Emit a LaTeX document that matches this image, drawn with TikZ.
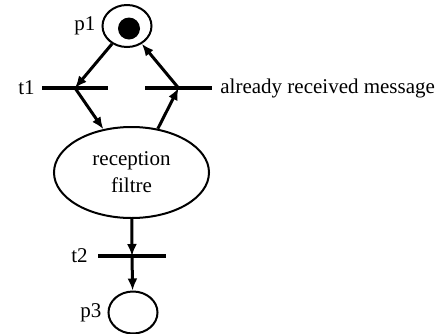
\documentclass[tikz,border=0pt]{standalone}
\usepackage{fontspec}
\setmainfont{Liberation Serif}
\usetikzlibrary{arrows.meta,shapes.geometric,positioning}

\begin{document}
\begin{tikzpicture}[x=1pt, y=-1pt, font=\fontsize{21}{27}\selectfont,
  place/.style={draw, ellipse, line width=2pt, minimum width=49pt, minimum height=42pt, inner sep=0pt},
  trans/.style={rectangle, fill=black, minimum height=4pt, inner sep=0pt},
  arc/.style={->, >={Latex[length=12pt,width=10pt]}, line width=3pt}]
\useasboundingbox (0,0) rectangle (439,333);
\node[place] at (127,26) (p1) {};
\node[circle, fill=black, minimum size=22pt, inner sep=0pt] at (129,28.5) (tok) {};
\node[left=6pt of p1, inner sep=0pt] (lp1) {p1};
\node[trans, minimum width=66pt] at (75,88) (t1) {};
\node[left=7pt of t1, inner sep=0pt] (lt1) {t1};
\node[trans, minimum width=67pt] at (178.5,88) (t3) {};
\node[right=8pt of t3, inner sep=0pt] (lt3) {already received message};
\node[draw, ellipse, line width=2pt, minimum width=155pt, minimum height=91pt, align=center] at (131.5,172.5) (rf) {reception\\filtre};
\node[trans, minimum width=68pt] at (132,256) (t2) {};
\node[left=10pt of t2, inner sep=0pt] (lt2) {t2};
\node[place] at (133,312.5) (p3) {};
\node[left=6pt of p3, inner sep=0pt] (lp3) {p3};
\draw[arc] (p1) -- (t1.center);
\draw[arc] (t1.center) -- (rf.123);
\draw[arc] (rf.59) -- (t3.center);
\draw[arc] (t3.center) -- (p1);
\draw[arc] (rf) -- (t2.center);
\draw[arc] (t2.center) -- (p3);
\end{tikzpicture}
\end{document}
